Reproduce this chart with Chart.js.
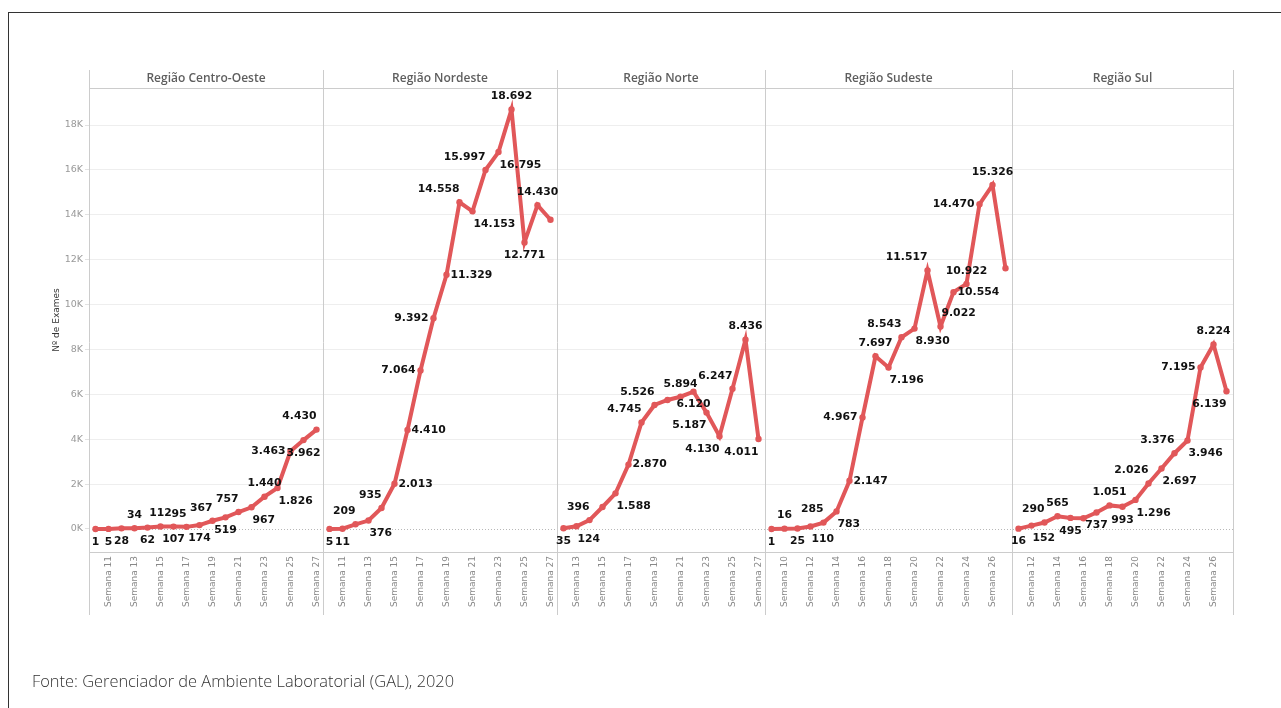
<!DOCTYPE html>
<html lang="pt-BR">
<head>
<meta charset="utf-8">
<title>Nº de Exames por região</title>
<script src="https://cdn.jsdelivr.net/npm/chart.js@4.4.0/dist/chart.umd.min.js"></script>
<style>
    html, body { margin: 0; padding: 0; background: #fff; }
    body { width: 1281px; height: 708px; position: relative; overflow: hidden; }
    #frame { position: absolute; left: 8px; top: 12px; width: 1290px; height: 720px;
             border-top: 1px solid #333; border-left: 1px solid #333; }
    #chart { position: absolute; left: 0; top: 0; }
    #fonte { position: absolute; left: 32px; top: 669px; line-height: 20px;
             font: 300 16.4px "Open Sans", sans-serif; color: #333; white-space: nowrap; }
</style>
</head>
<body>
<div id="frame"></div>
<canvas id="chart" width="1281" height="708"></canvas>
<div id="fonte">Fonte: Gerenciador de Ambiente Laboratorial (GAL), 2020</div>
<script>
(function () {
    'use strict';

    var REGIONS = ['Região Centro-Oeste', 'Região Nordeste', 'Região Norte', 'Região Sudeste', 'Região Sul'];
    var FIRST_WEEK = [10, 10, 12, 9, 11];

    var centroOeste = [1, 5, 28, 34, 62, 112, 107, 95, 174, 367, 519, 757, 967, 1440, 1826, 3463, 3962, 4430];
    var nordeste = [5, 11, 209, 376, 935, 2013, 4410, 7064, 9392, 11329, 14558, 14153, 15997, 16795, 18692, 12771, 14430, 13780];
    var norte = [35, 124, 396, 980, 1588, 2870, 4745, 5526, 5750, 5894, 6120, 5187, 4130, 6247, 8436, 4011];
    var sudeste = [1, 16, 25, 110, 285, 783, 2147, 4967, 7697, 7196, 8543, 8930, 11517, 9022, 10554, 10922, 14470, 15326, 11620];
    var sul = [16, 152, 290, 565, 495, 480, 737, 1051, 993, 1296, 2026, 2697, 3376, 3946, 7195, 8224, 6139];

    var Y_TICKS = [0, 2000, 4000, 6000, 8000, 10000, 12000, 14000, 16000, 18000];

    var SERIES = [centroOeste, nordeste, norte, sudeste, sul];

    // where each value label sits: a above, b below, l left, r right,
    // al/ar/bl/br corners, '' = hidden (Tableau dropped it)
    var PLACE = [
        ['b', 'b', 'b', 'a', 'b', 'a', 'b', 'al', 'b', 'al', 'b', 'al', 'br', 'a', 'br', 'l', 'b', 'al'],
        ['b', 'b', 'al', 'br', 'al', 'r', 'r', 'l', 'l', 'r', 'al', 'br', 'al', 'br', 'a', 'b', 'a', ''],
        ['b', 'br', 'al', '', 'br', 'r', 'al', 'al', '', 'a', 'b', 'bl', 'bl', 'al', 'a', 'bl'],
        ['b', 'a', 'b', 'br', 'al', 'br', 'r', 'l', 'a', 'br', 'al', 'br', 'al', 'ar', 'r', 'a', 'l', 'a', ''],
        ['b', 'br', 'al', 'a', 'b', '', 'b', 'a', 'b', 'br', 'al', 'br', 'al', 'br', 'l', 'a', 'bl']
    ];

    var RED = '#e15759';

    var labels = [];
    var starts = [];
    var showTick = [];
    SERIES.forEach(function (vals, r) {
        starts.push(labels.length);
        vals.forEach(function (v, i) {
            labels.push('Semana ' + (FIRST_WEEK[r] + i));
            showTick.push(i % 2 === 1);
        });
    });

    var datasets = SERIES.map(function (vals, r) {
        var data = labels.map(function () { return null; });
        vals.forEach(function (v, i) { data[starts[r] + i] = v; });
        return {
            label: REGIONS[r],
            data: data,
            borderColor: RED,
            backgroundColor: RED,
            borderWidth: 4,
            pointRadius: 3.2,
            pointHoverRadius: 3.2,
            pointBorderWidth: 0,
            tension: 0,
            spanGaps: false
        };
    });

    function fmt(v) {
        return String(v).replace(/\B(?=(\d{3})+(?!\d))/g, '.');
    }

    var facets = {
        id: 'facets',
        beforeDatasetsDraw: function (chart) {
            var ctx = chart.ctx;
            var xs = chart.scales.x;
            var ys = chart.scales.y;
            var a = chart.chartArea;
            var step = xs.getPixelForValue(1) - xs.getPixelForValue(0);
            var edges = starts.map(function (s) { return xs.getPixelForValue(s) - step / 2; });
            edges.push(xs.getPixelForValue(labels.length - 1) + step / 2);

            ctx.save();
            var y0 = Math.round(ys.getPixelForValue(0)) + 0.5;
            ctx.lineWidth = 1;
            ctx.strokeStyle = '#b8b8b8';
            ctx.setLineDash([1, 2]);
            ctx.beginPath();
            ctx.moveTo(a.left, y0);
            ctx.lineTo(a.right, y0);
            ctx.stroke();
            ctx.setLineDash([]);

            ctx.strokeStyle = '#cccccc';
            ctx.beginPath();
            ctx.moveTo(a.left, a.top + 0.5);
            ctx.lineTo(a.right, a.top + 0.5);
            ctx.moveTo(a.left, a.bottom + 0.5);
            ctx.lineTo(a.right, a.bottom + 0.5);
            edges.forEach(function (e) {
                var ex = Math.round(e) + 0.5;
                ctx.moveTo(ex, a.top - 18);
                ctx.lineTo(ex, a.bottom + 63);
            });
            ctx.stroke();

            ctx.fillStyle = '#5e5e5e';
            ctx.font = '600 12px "Open Sans", sans-serif';
            ctx.textAlign = 'center';
            ctx.textBaseline = 'middle';
            REGIONS.forEach(function (name, r) {
                ctx.fillText(name, (edges[r] + edges[r + 1]) / 2, a.top - 9);
            });

            ctx.translate(57, (a.top + a.bottom) / 2);
            ctx.rotate(-Math.PI / 2);
            ctx.fillStyle = '#333';
            ctx.font = '9px "DejaVu Sans", sans-serif';
            ctx.fillText('Nº de Exames', 0, 0);
            ctx.restore();
        },
        afterDatasetsDraw: function (chart) {
            var ctx = chart.ctx;
            ctx.save();
            ctx.font = 'bold 10.8px "DejaVu Sans", sans-serif';
            ctx.fillStyle = '#111';
            ctx.textBaseline = 'middle';
            SERIES.forEach(function (vals, r) {
                var meta = chart.getDatasetMeta(r);
                vals.forEach(function (v, i) {
                    var p = PLACE[r][i];
                    if (!p) return;
                    var pt = meta.data[starts[r] + i];
                    var tx = pt.x;
                    var ty = pt.y;
                    var align = 'center';
                    if (p.charAt(0) === 'a') ty -= 13;
                    if (p.charAt(0) === 'b') ty += 13;
                    if (p === 'l') { align = 'right'; tx -= 5; }
                    else if (p === 'r') { align = 'left'; tx += 4; }
                    else if (p.length === 2 && p.charAt(1) === 'l') { align = 'right'; }
                    else if (p.length === 2 && p.charAt(1) === 'r') { align = 'left'; tx += 1; }
                    ctx.textAlign = align;
                    ctx.fillText(fmt(v), tx, ty);
                });
            });
            ctx.restore();
        }
    };

    new Chart(document.getElementById('chart'), {
        type: 'line',
        data: { labels: labels, datasets: datasets },
        options: {
            responsive: false,
            animation: false,
            layout: { padding: { top: 88, right: 48, left: 0, bottom: 0 } },
            plugins: {
                legend: { display: false },
                tooltip: { enabled: false }
            },
            scales: {
                x: {
                    type: 'category',
                    offset: true,
                    afterFit: function (s) { s.height = 156; },
                    grid: { display: false, drawTicks: false, tickLength: 0 },
                    border: { display: false },
                    ticks: {
                        autoSkip: false,
                        minRotation: 90,
                        maxRotation: 90,
                        padding: 4,
                        color: '#888',
                        font: { family: 'DejaVu Sans', size: 9 },
                        callback: function (v, i) { return showTick[i] ? labels[i] : ''; }
                    }
                },
                y: {
                    min: -1025,
                    max: 19650,
                    afterBuildTicks: function (s) {
                        s.ticks = Y_TICKS.map(function (v) { return { value: v }; });
                    },
                    afterFit: function (s) { s.width = 89; },
                    grid: {
                        color: function (c) {
                            return c.tick && c.tick.value === 0 ? 'rgba(0,0,0,0)' : '#eeeeee';
                        },
                        tickColor: '#e2e2e2',
                        tickLength: 4
                    },
                    border: { display: false },
                    ticks: {
                        color: '#999',
                        padding: 2,
                        font: { family: 'DejaVu Sans', size: 9.5 },
                        callback: function (v) { return (v / 1000) + 'K'; }
                    }
                }
            }
        },
        plugins: [facets]
    });
})();
</script>
</body>
</html>
